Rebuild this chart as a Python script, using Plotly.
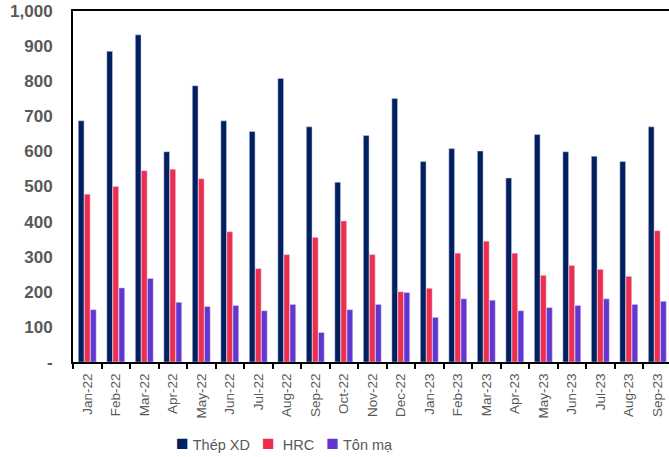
import plotly.graph_objects as go

months = ["Jan-22", "Feb-22", "Mar-22", "Apr-22", "May-22", "Jun-22", "Jul-22",
          "Aug-22", "Sep-22", "Oct-22", "Nov-22", "Dec-22", "Jan-23", "Feb-23",
          "Mar-23", "Apr-23", "May-23", "Jun-23", "Jul-23", "Aug-23", "Sep-23"]
thep_xd = [687, 885, 932, 599, 787, 687, 657, 808, 670, 512, 645, 751, 571, 608,
           601, 524, 648, 599, 586, 571, 670]
hrc = [478, 500, 545, 549, 522, 371, 266, 306, 355, 402, 306, 200, 210, 310,
       344, 310, 247, 275, 264, 244, 374]
ton_ma = [149, 211, 238, 170, 158, 161, 146, 164, 84, 149, 164, 198, 127, 180,
          176, 146, 155, 161, 180, 164, 173]
series_names = ["Thép XD", "HRC", "Tôn mạ"]
y_ticks = [0, 100, 200, 300, 400, 500, 600, 700, 800, 900, 1000]
y_labels = ["-", "100", "200", "300", "400", "500", "600", "700", "800", "900", "1,000"]

colors = ["#002060", "#EE2D4F", "#6236D0"]

fig = go.Figure()
for name, vals, c in zip(series_names, [thep_xd, hrc, ton_ma], colors):
    fig.add_trace(go.Bar(
        x=months, y=vals, name=name, showlegend=False,
        marker=dict(color=c, line=dict(color="rgba(220,220,240,0.8)", width=0.6)),
    ))

# legend drawn as one text line, built from the series names and colours
gaps = ["&nbsp;", "&nbsp;&nbsp;", "&nbsp;"]
parts = []
for name, c, g in zip(series_names, colors, gaps):
    parts.append(f'<span style="color:{c};font-size:21px">■</span>{g}{name}')
legend_text = "&nbsp;&nbsp;&nbsp;".join(parts)

fig.add_annotation(
    text=legend_text, xref="paper", yref="paper",
    x=0.355, y=-0.228, xanchor="center", yanchor="middle", showarrow=False,
    font=dict(family="Liberation Sans, Arial", size=14.5, color="#595959"),
)

fig.update_layout(
    width=669, height=457,
    margin=dict(l=73, r=0, t=11, b=95),
    paper_bgcolor="white", plot_bgcolor="white",
    barmode="group", bargap=0.36, bargroupgap=0.06,
    showlegend=False,
    xaxis=dict(
        type="category", range=[-0.5, 20.41],
        showline=True, linecolor="black", linewidth=2, mirror=True,
        ticks="outside", tickson="boundaries", ticklen=5, tickwidth=2, tickcolor="black",
        tickangle=-90, tickfont=dict(family="Liberation Sans, Arial", size=13.5, color="#595959"),
        ticklabelstandoff=4,
        showgrid=False,
    ),
    yaxis=dict(
        range=[0, 1000], tickvals=y_ticks, ticktext=y_labels,
        showline=True, linecolor="black", linewidth=2,
        ticks="", showgrid=False, zeroline=False,
        tickfont=dict(family="Liberation Sans, Arial", size=17, color="#595959", weight="bold"),
        ticklabelstandoff=15,
    ),
)

fig.write_html("out.html")
